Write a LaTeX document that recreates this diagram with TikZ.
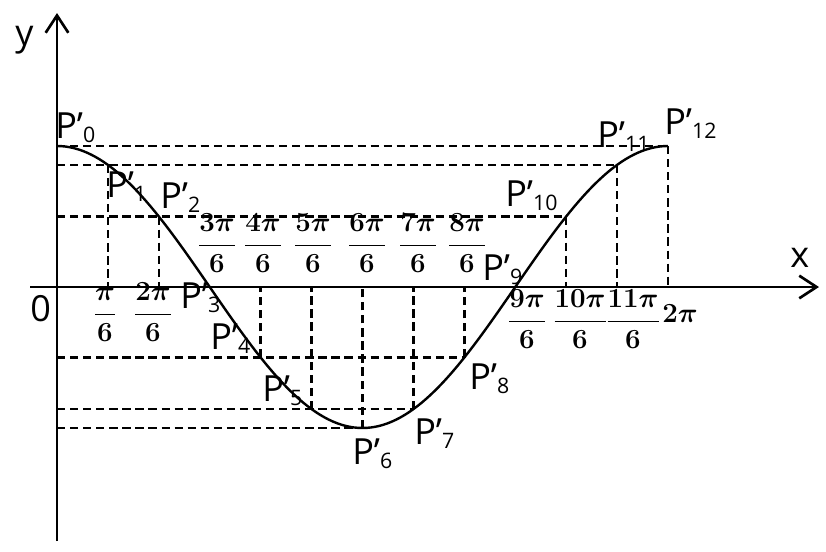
\documentclass[tikz,border=0pt]{standalone}
\usepackage{amsmath}
\usepackage[no-math]{fontspec}
\setmainfont{Open Sans}
\usetikzlibrary{arrows.meta}
\newcommand{\plab}[1]{P’\raisebox{-3pt}{\fontsize{16}{16}\selectfont #1}}
\tikzset{
  axisline/.style={line width=2pt, -{Straight Barb[length=13pt,width=17pt]}},
  curveline/.style={line width=1.8pt},
  dashline/.style={line width=1.8pt, dash pattern=on 6.2pt off 3.6pt},
  ptlab/.style={font=\fontsize{27}{30}\selectfont, inner sep=0pt, anchor=base west},
  fraclab/.style={font=\fontsize{21}{25}\selectfont\boldmath, inner sep=0pt, anchor=base},
}
\begin{document}
\begin{tikzpicture}[x=0.75pt,y=-0.75pt]
\useasboundingbox (0,0) rectangle (826,551);
% axis end points
\coordinate (xs) at (30,287);
\coordinate (xe) at (819,287);
\coordinate (ys) at (57,541);
\coordinate (ye) at (57,13);
% points of the curve and their feet on the axes
\foreach \k in {0,...,12} {
  \pgfmathsetmacro\px{57+\k*611/12}
  \pgfmathsetmacro\py{287-141*cos(\k*30)}
  \coordinate (p\k) at (\px,\py);
  \coordinate (xa\k) at (\px,287);
  \coordinate (ya\k) at (57,\py);
}
% dashed helper lines
\draw[dashline] (p0) -- (p12);
\draw[dashline] (ya1) -- (p11);
\draw[dashline] (ya2) -- (p10);
\draw[dashline] (ya4) -- (p8);
\draw[dashline] (ya5) -- (p7);
\draw[dashline] (ya6) -- (p6);
\foreach \k in {1,2,4,5,6,7,8,10,11,12} {
  \draw[dashline] (p\k) -- (xa\k);
}
% axes
\draw[axisline] (xs) -- (xe);
\draw[axisline] (ys) -- (ye);
% curve
\draw[curveline] plot[domain=0:360,samples=145] ({57+\x/360*611},{287-141*cos(\x)});
% axis labels
\node[ptlab] (lx) at (790,267) {x};
\node[ptlab] (ly) at (15,45) {y};
\node[ptlab] (lo) at (30,321) {0};
% point labels
\node[ptlab] (l0) at (55,138) {\plab{0}};
\node[ptlab] (l1) at (106,197) {\plab{1}};
\node[ptlab] (l2) at (160,208) {\plab{2}};
\node[ptlab] (l3) at (180,308) {\plab{3}};
\node[ptlab] (l4) at (210,349) {\plab{4}};
\node[ptlab] (l5) at (262,401) {\plab{5}};
\node[ptlab] (l6) at (352,464) {\plab{6}};
\node[ptlab] (l7) at (414,444) {\plab{7}};
\node[ptlab] (l8) at (469,389) {\plab{8}};
\node[ptlab] (l9) at (482,280) {\plab{9}};
\node[ptlab] (l10) at (505,206) {\plab{10}};
\node[ptlab] (l11) at (597,147) {\plab{11}};
\node[ptlab] (l12) at (664,134) {\plab{12}};
% tick labels
\node[fraclab] (f1) at (105,321) {$\dfrac{\pi}{6}$};
\node[fraclab] (f2) at (153,321) {$\dfrac{2\pi}{6}$};
\node[fraclab] (f3) at (217,252) {$\dfrac{3\pi}{6}$};
\node[fraclab] (f4) at (263,252) {$\dfrac{4\pi}{6}$};
\node[fraclab] (f5) at (313,252) {$\dfrac{5\pi}{6}$};
\node[fraclab] (f6) at (367,252) {$\dfrac{6\pi}{6}$};
\node[fraclab] (f7) at (418,252) {$\dfrac{7\pi}{6}$};
\node[fraclab] (f8) at (467,252) {$\dfrac{8\pi}{6}$};
\node[fraclab] (f9) at (527,328) {$\dfrac{9\pi}{6}$};
\node[fraclab] (f10) at (580,328) {$\dfrac{10\pi}{6}$};
\node[fraclab] (f11) at (633,328) {$\dfrac{11\pi}{6}$};
\node[fraclab] (f12) at (680,322) {$2\pi$};
\end{tikzpicture}
\end{document}
